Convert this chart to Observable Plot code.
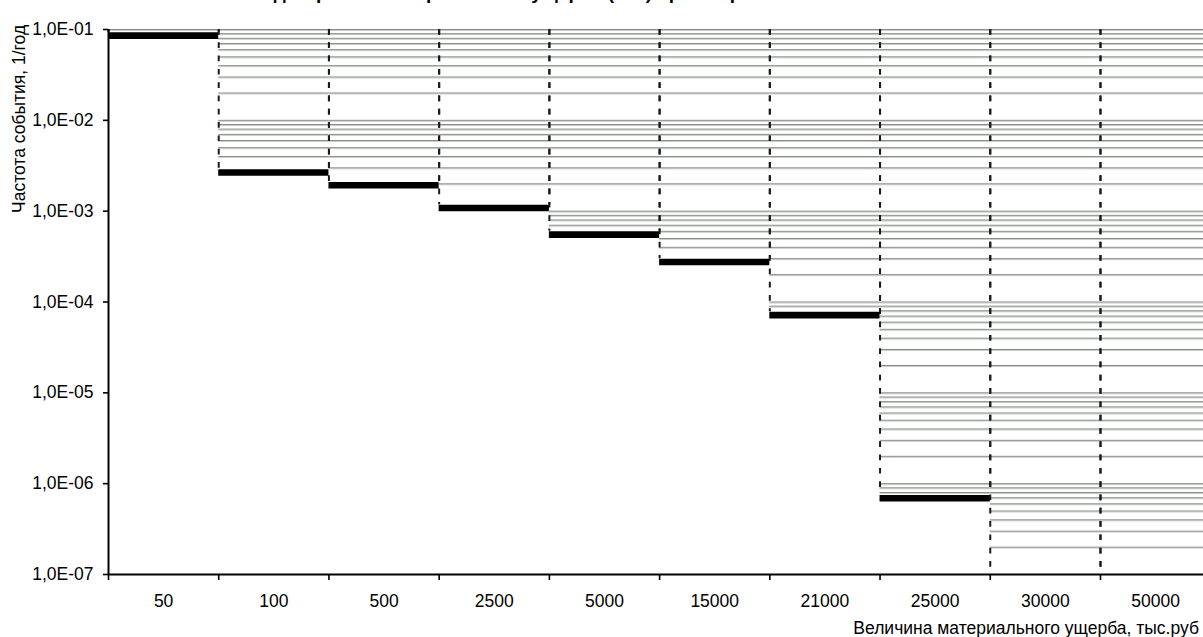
<!DOCTYPE html>
<html>
<head>
<meta charset="utf-8">
<script src="https://cdn.jsdelivr.net/npm/d3@7"></script>
<script src="https://cdn.jsdelivr.net/npm/@observablehq/plot@0.6"></script>
<style>
  html, body { margin: 0; padding: 0; background: #fff; overflow: hidden; }
  #chart { width: 1203px; height: 637px; position: relative; }
</style>
</head>
<body>
<div id="chart"></div>
<script>
// ---- data ----
const categories = ["50", "100", "500", "2500", "5000", "15000", "21000", "25000", "30000", "50000"];
const frequencies = [0.093, 0.0029, 0.0021, 0.00118, 0.0006, 0.0003, 0.000078, 0.00000075, null, null];
const yTicks = [1e-7, 1e-6, 1e-5, 1e-4, 1e-3, 1e-2, 1e-1];
const yTickLabels = ["1,0E-07", "1,0E-06", "1,0E-05", "1,0E-04", "1,0E-03", "1,0E-02", "1,0E-01"];
const gridMultipliers = [1, 2, 3, 4, 5, 6, 7, 8, 9];
const titleText = "F/G-диаграмма материального ущерба (F/G) при авариях на объекте";
const xTitle = "Величина материального ущерба, тыс.руб";
const yTitle = "Частота события, 1/год";

// ---- derived tables ----
const yMin = yTicks[0], yMax = yTicks[yTicks.length - 1];
const rows = categories.map((c, i) => ({i, cat: c, v: frequencies[i]}));
const gridValues = [];
for (let k = 0; k < yTicks.length - 1; k++) for (const m of gridMultipliers) gridValues.push(m * yTicks[k]);
gridValues.push(yMax);

const gridRows = [];
rows.forEach(r => {
  const floor = r.v ?? yMin;
  gridValues.forEach(g => { if (g > floor * 1.05) gridRows.push({x1: r.i, x2: r.i + 1, g}); });
});
const edgeRows = [];
rows.forEach(r => {
  const floor = r.v ?? yMin;
  edgeRows.push({x: r.i, v: floor});
  edgeRows.push({x: r.i + 1, v: floor});
});
const barRows = rows.filter(r => r.v != null);

const plot = Plot.plot({
  width: 1203,
  height: 637,
  marginLeft: 108,
  marginRight: 0,
  marginTop: 29,
  marginBottom: 63,
  style: {fontFamily: "'Liberation Sans', Arial, sans-serif", fontSize: "17.5px", color: "black", background: "white", overflow: "visible"},
  x: {type: "linear", domain: [0, categories.length], range: [108, 1210.2]},
  y: {type: "log", domain: [yMin, yMax], range: [574, 29]},
  marks: [
    // gridlines (visible only above each bar)
    Plot.ruleY(gridRows, {x1: "x1", x2: "x2", y: "g", stroke: "#c8cdc8", strokeWidth: 1, dy: 1}),
    Plot.ruleY(gridRows, {x1: "x1", x2: "x2", y: "g", stroke: "#878d87", strokeWidth: 1}),
    // dashed column edges from top down to the value
    Plot.ruleX(edgeRows, {x: "x", y1: () => yMax, y2: "v", stroke: "#1a1a1a", strokeWidth: 2, strokeDasharray: "5.7,7.6"}),
    // black value bars
    Plot.ruleY(barRows, {x1: d => d.i, x2: d => d.i + 1, y: "v", stroke: "black", strokeWidth: 6.6, dy: 3.3}),
    // axes
    Plot.axisY({ticks: yTicks, tickFormat: d => yTickLabels[yTicks.indexOf(d)], tickSize: 5, tickPadding: 10, label: null, strokeWidth: 1.6}),
    Plot.axisX({ticks: d3.range(0, categories.length + 1), tickFormat: () => "", tickSize: 6, label: null, strokeWidth: 1.6}),
    Plot.axisX({ticks: categories.map((_, i) => i + 0.5), tickFormat: d => categories[Math.round(d - 0.5)], tickSize: 0, tickPadding: 20, label: null}),
    Plot.ruleX([0], {y1: yMin, y2: yMax, stroke: "black", strokeWidth: 2}),
    Plot.ruleY([yMin], {stroke: "black", strokeWidth: 2})
  ]
});

const svg = d3.select(plot);
svg.append("text")
  .attr("x", 560).attr("y", -1.5)
  .attr("text-anchor", "middle")
  .attr("font-weight", "bold")
  .attr("font-size", "19px")
  .attr("fill", "black")
  .text(titleText);
svg.append("text")
  .attr("transform", "translate(25,213) rotate(-90)")
  .attr("text-anchor", "start")
  .attr("fill", "black")
  .text(yTitle);
svg.append("text")
  .attr("x", 1199).attr("y", 634)
  .attr("text-anchor", "end")
  .attr("fill", "black")
  .text(xTitle);

document.getElementById("chart").appendChild(plot);
</script>
</body>
</html>
